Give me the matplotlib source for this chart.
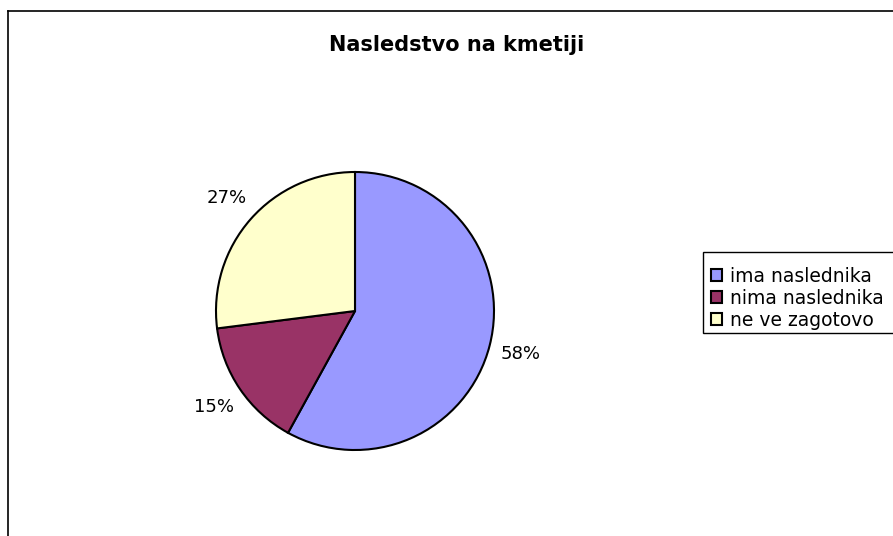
"""Pie chart: Nasledstvo na kmetiji."""

import matplotlib
matplotlib.use('Agg')
import matplotlib.pyplot as plt
from matplotlib.lines import Line2D
from matplotlib.patches import Rectangle


W, H = 893, 536

# Data
categories = ['ima naslednika', 'nima naslednika', 'ne ve zagotovo']
shares = [58, 15, 27]
colors = ['#9999FF', '#993366', '#FFFFCC']
title = 'Nasledstvo na kmetiji'

plt.rcParams['font.family'] = ['DejaVu Sans']

fig = plt.figure(figsize=(W / 100, H / 100), dpi=100)

# Pie axes: centre (355, 311) px, radius 139 px
cx, cy, r = 355, 311, 139
ax = fig.add_axes([(cx - r) / W, (H - cy - r) / H, 2 * r / W, 2 * r / H])
wedges, _, autotexts = ax.pie(
    shares, colors=colors, startangle=90, counterclock=False,
    autopct='%1.0f%%', pctdistance=1.23, radius=1,
    wedgeprops=dict(edgecolor='black', linewidth=1.5),
    textprops=dict(fontsize=13, color='black'))
ax.set_xlim(-1, 1)
ax.set_ylim(-1, 1)
ax.set_aspect('equal')
ax.axis('off')

# Title
fig.text(457 / W, 1 - 51 / H, title, ha='center', va='baseline',
         fontsize=15, fontweight='bold')

# Legend box (runs off the right edge, as in the original)
fig.add_artist(Rectangle((703 / W, 1 - 333 / H), 200 / W, 81 / H,
                         transform=fig.transFigure, facecolor='white',
                         edgecolor='black', lw=1.0))
leg = fig.legend(wedges, categories, loc='upper left',
                 bbox_to_anchor=(707 / W, 1 - 263 / H),
                 fontsize=13.5, frameon=False,
                 handlelength=0.6, handleheight=0.6,
                 handletextpad=0.45, labelspacing=0.16, borderpad=0.2,
                 borderaxespad=0)

# Chart area border (left and top visible)
fig.add_artist(Line2D([8 / W, 8 / W], [0, 1 - 11 / H], color='black', lw=1.2))
fig.add_artist(Line2D([8 / W, 1], [1 - 11 / H, 1 - 11 / H], color='black', lw=1.2))

fig.savefig('out.png', dpi=100)
